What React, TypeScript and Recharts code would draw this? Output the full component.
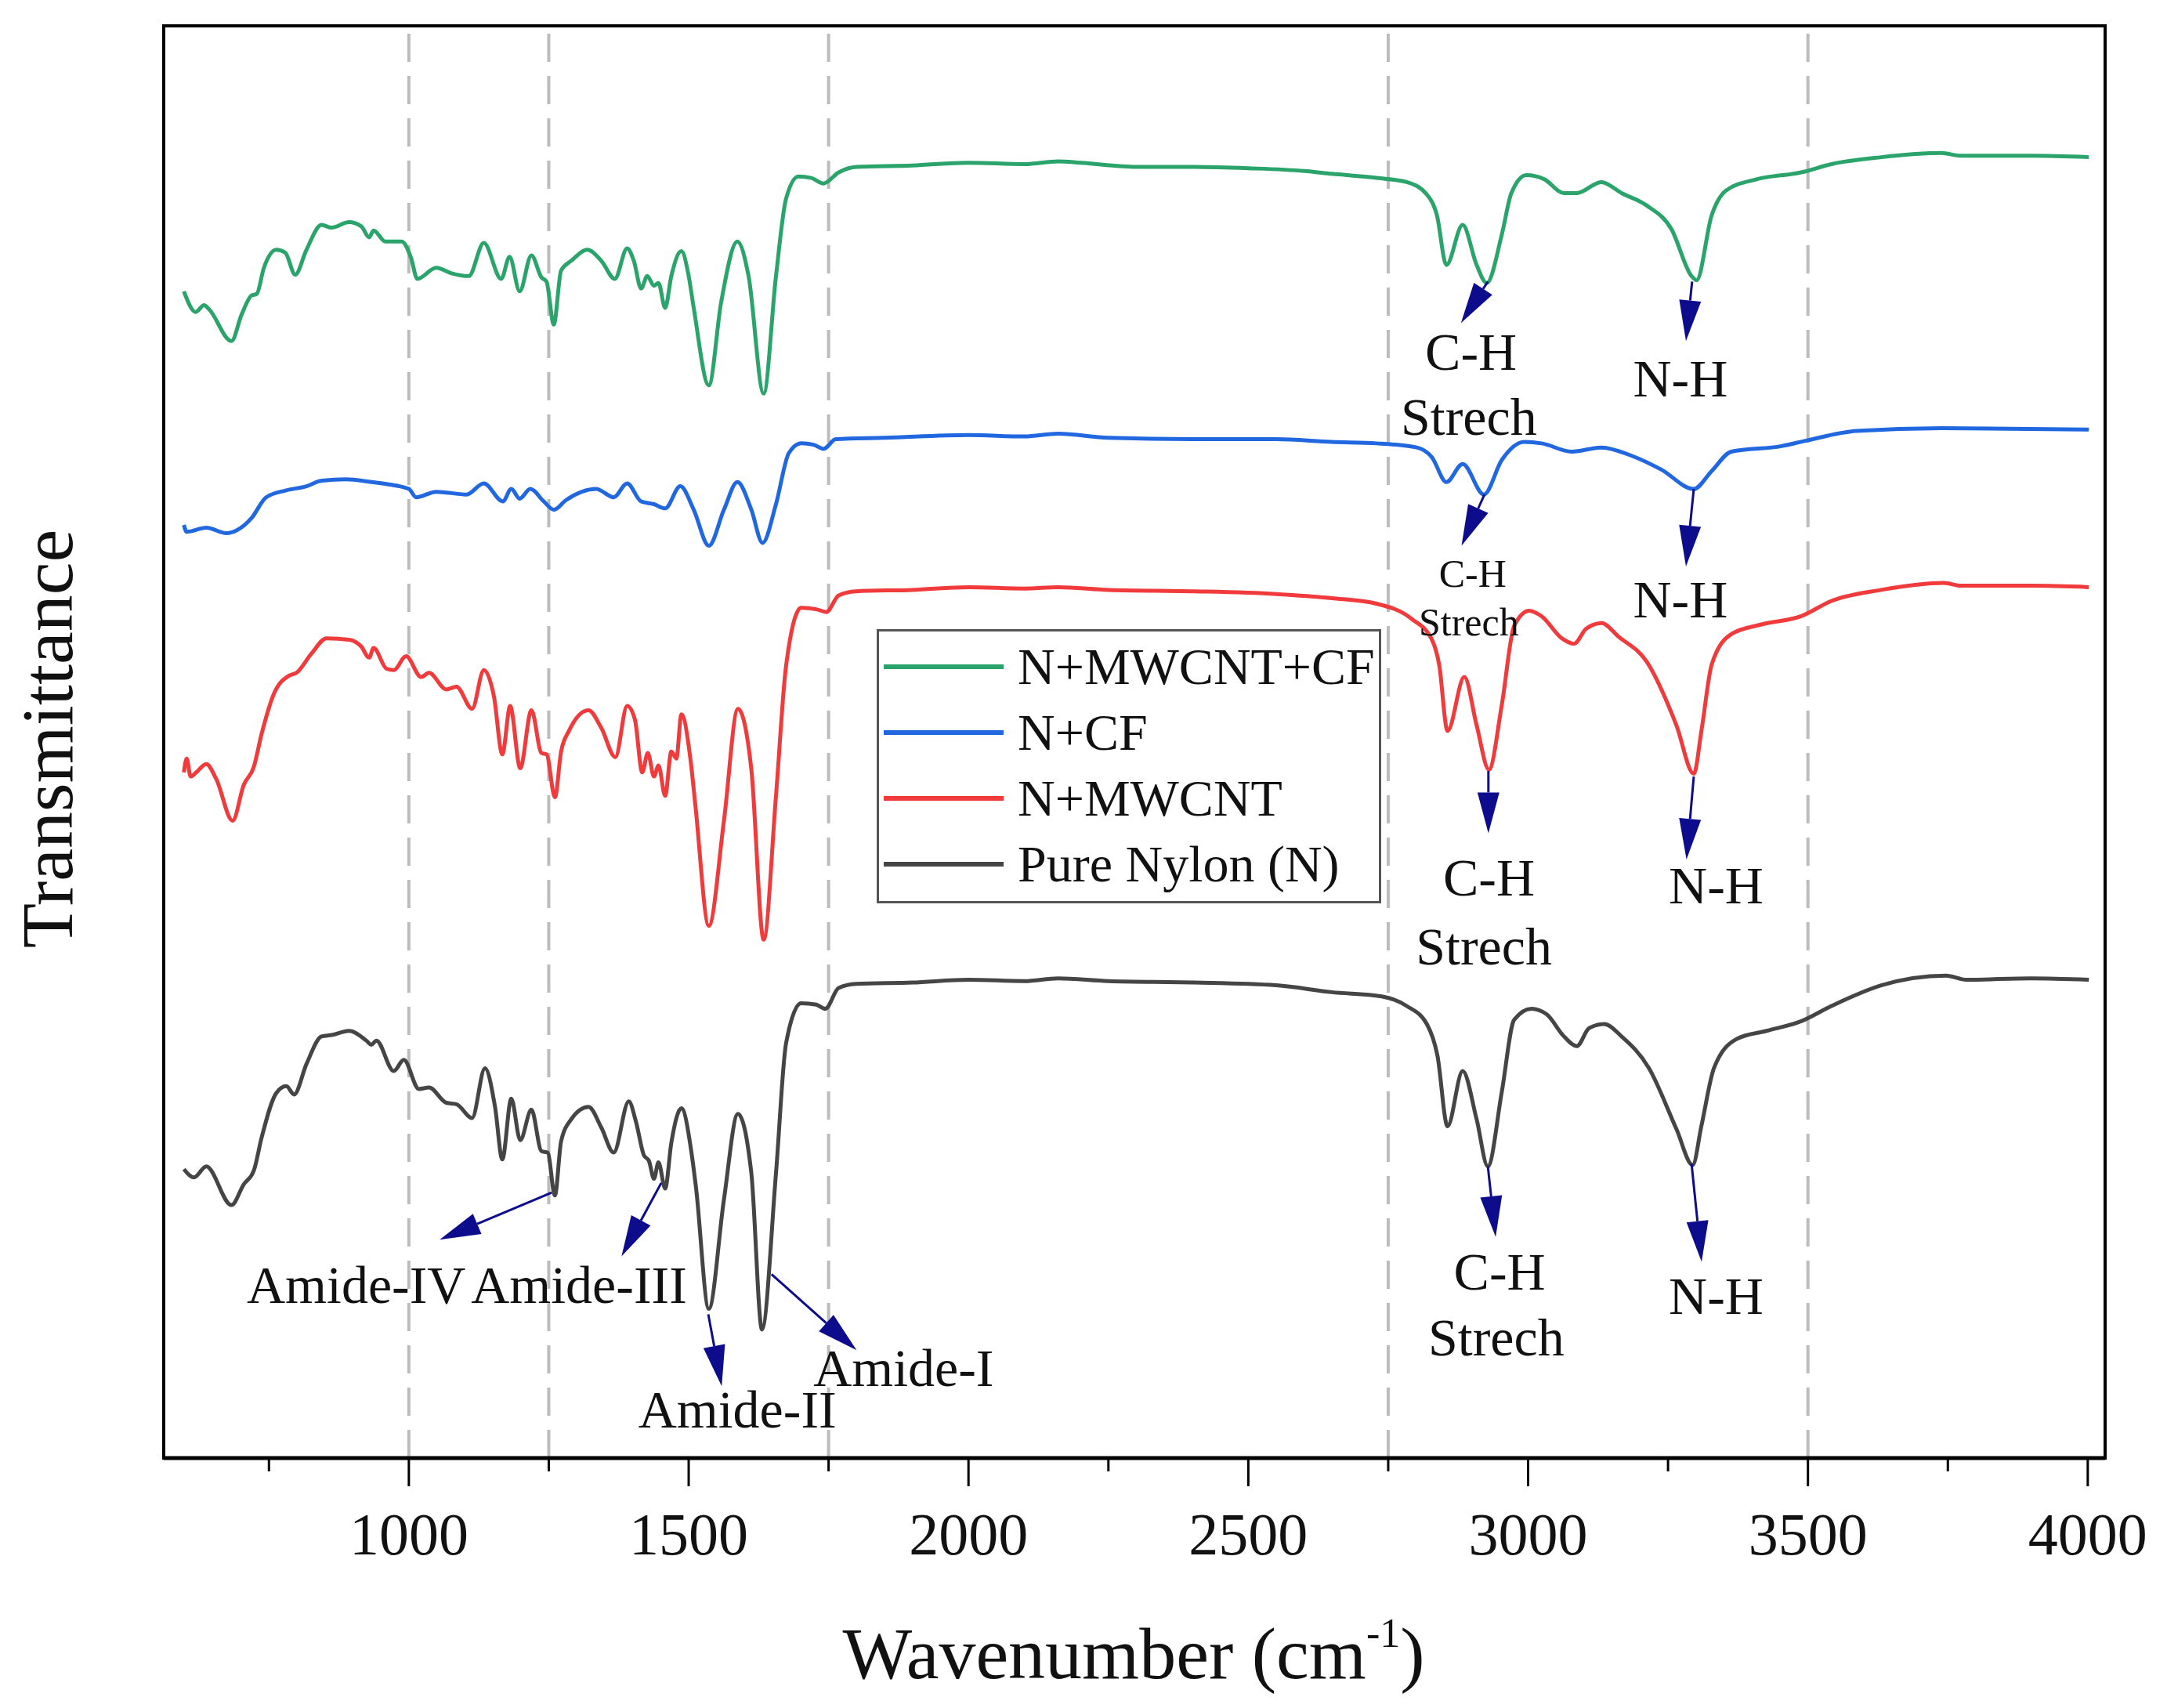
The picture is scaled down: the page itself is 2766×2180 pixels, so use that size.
import {
  Legend,
  Line,
  LineChart,
  ReferenceArea,
  ReferenceDot,
  ReferenceLine,
  XAxis,
  YAxis,
} from 'recharts';

// FTIR spectra, [wavenumber cm-1, transmittance (a.u., offset per trace)]
const mwcntCf: [number, number][] = [
  [598, 844], [619, 829], [634, 834], [643, 831], [683, 808], [701, 827], [719, 841], [728, 842],
  [741, 861], [763, 874], [779, 872], [797, 856], [817, 874], [844, 892], [862, 890], [893, 894],
  [915, 891], [929, 883], [937, 888], [958, 880], [987, 880], [1004, 868], [1015, 853], [1049, 861],
  [1076, 857], [1107, 855], [1134, 879], [1165, 853], [1180, 869], [1198, 844], [1219, 870], [1237, 854],
  [1246, 851], [1259, 820], [1272, 859], [1290, 866], [1319, 874], [1344, 866], [1368, 853], [1390, 875],
  [1402, 866], [1415, 846], [1426, 855], [1438, 848], [1446, 850], [1458, 832], [1469, 855], [1487, 873],
  [1500, 855], [1509, 832], [1536, 776], [1558, 836], [1587, 880], [1607, 855], [1634, 770], [1656, 855],
  [1674, 911], [1696, 927], [1719, 926], [1741, 922], [1768, 930], [1800, 934], [1900, 935], [2000, 937],
  [2100, 936], [2160, 938], [2200, 937], [2300, 934], [2400, 934], [2500, 933], [2600, 931], [2649, 929],
  [2729, 926], [2783, 923], [2819, 914], [2837, 899], [2854, 863], [2883, 892], [2908, 863], [2926, 850],
  [2953, 885], [2970, 915], [2997, 928], [3029, 925], [3064, 915], [3087, 915], [3131, 923], [3167, 915],
  [3212, 906], [3256, 889], [3292, 855], [3301, 852], [3328, 899], [3354, 917], [3408, 925], [3488, 930],
  [3542, 936], [3631, 941], [3738, 944], [3774, 942], [3899, 942], [4002, 941],
];

const nCf: [number, number][] = [
  [598, 675], [603, 670], [638, 673], [674, 669], [692, 671], [719, 680], [745, 695], [781, 700],
  [817, 703], [844, 707], [888, 708], [933, 706], [969, 704], [1000, 701], [1013, 695], [1049, 699],
  [1103, 697], [1134, 705], [1168, 692], [1183, 701], [1198, 694], [1217, 701], [1241, 692], [1259, 686],
  [1281, 693], [1335, 701], [1366, 695], [1390, 705], [1415, 692], [1438, 690], [1458, 687], [1485, 703],
  [1509, 686], [1536, 660], [1563, 686], [1587, 706], [1612, 686], [1632, 662], [1656, 690], [1679, 727],
  [1701, 734], [1723, 733], [1741, 730], [1763, 737], [1850, 738], [2000, 740], [2100, 739], [2160, 741],
  [2250, 738], [2400, 737], [2550, 737], [2649, 735], [2729, 734], [2801, 731], [2828, 724], [2854, 706],
  [2883, 719], [2921, 697], [2953, 722], [2993, 735], [3024, 734], [3078, 728], [3131, 731], [3185, 725],
  [3238, 715], [3296, 701], [3328, 714], [3363, 728], [3453, 732], [3497, 736], [3587, 743], [3738, 745],
  [4002, 744],
];

const nMwcnt: [number, number][] = [
  [598, 496], [603, 506], [610, 493], [620, 496], [638, 502], [656, 491], [685, 461], [705, 487],
  [723, 500], [737, 524], [759, 553], [786, 566], [799, 568], [826, 582], [853, 593], [893, 592],
  [915, 587], [929, 579], [937, 586], [960, 571], [973, 570], [995, 580], [1022, 565], [1036, 568],
  [1067, 556], [1085, 558], [1113, 542], [1134, 570], [1152, 551], [1167, 509], [1181, 544], [1199, 499],
  [1219, 541], [1237, 510], [1246, 509], [1261, 478], [1272, 511], [1286, 526], [1321, 541], [1344, 528],
  [1369, 507], [1390, 544], [1404, 534], [1417, 496], [1427, 510], [1438, 493], [1446, 501], [1458, 479],
  [1469, 511], [1478, 506], [1487, 538], [1503, 506], [1512, 472], [1536, 385], [1563, 461], [1588, 542],
  [1612, 498], [1634, 375], [1656, 479], [1674, 573], [1701, 615], [1728, 614], [1746, 612], [1768, 624],
  [1799, 627], [1900, 628], [2000, 630], [2100, 629], [2160, 630], [2250, 628], [2400, 627], [2550, 625],
  [2649, 622], [2729, 618], [2792, 607], [2828, 592], [2841, 574], [2856, 526], [2886, 565], [2908, 530],
  [2930, 498], [2953, 545], [2975, 602], [3002, 613], [3024, 609], [3060, 593], [3082, 589], [3104, 600],
  [3131, 604], [3162, 594], [3212, 576], [3265, 530], [3296, 495], [3310, 527], [3328, 574], [3363, 596],
  [3417, 603], [3488, 609], [3542, 620], [3631, 628], [3743, 633], [3774, 631], [3899, 631], [4002, 630],
];

const pureNylon: [number, number][] = [
  [598, 209], [616, 203], [638, 211], [683, 183], [705, 198], [723, 208], [737, 232], [763, 264],
  [781, 269], [795, 263], [817, 285], [844, 305], [862, 306], [893, 309], [924, 302], [933, 299],
  [942, 302], [973, 280], [991, 288], [1018, 267], [1036, 268], [1067, 257], [1085, 256], [1113, 246],
  [1136, 282], [1154, 254], [1167, 216], [1183, 260], [1199, 230], [1219, 252], [1237, 222], [1248, 221],
  [1261, 190], [1272, 229], [1290, 245], [1321, 254], [1344, 239], [1366, 221], [1393, 258], [1406, 243],
  [1420, 219], [1429, 215], [1438, 202], [1446, 214], [1458, 195], [1469, 228], [1487, 253], [1505, 221],
  [1513, 196], [1536, 108], [1563, 187], [1588, 249], [1612, 206], [1631, 93], [1656, 206], [1674, 300],
  [1701, 329], [1728, 328], [1744, 325], [1768, 340], [1799, 343], [1900, 344], [2000, 346], [2100, 345],
  [2160, 347], [2250, 345], [2400, 344], [2550, 342], [2649, 337], [2738, 334], [2783, 327], [2819, 314],
  [2838, 291], [2856, 240], [2883, 280], [2908, 245], [2928, 211], [2953, 265], [2975, 317], [3006, 325],
  [3033, 321], [3064, 305], [3087, 298], [3109, 311], [3136, 314], [3167, 305], [3216, 282], [3265, 238],
  [3294, 212], [3310, 241], [3332, 282], [3372, 303], [3426, 309], [3488, 316], [3542, 327], [3631, 342],
  [3747, 349], [3783, 346], [3899, 347], [4002, 346],
];

const SERIES = [
  { name: 'N+MWCNT+CF', color: '#2aa46b', points: mwcntCf },
  { name: 'N+CF', color: '#2167e0', points: nCf },
  { name: 'N+MWCNT', color: '#f03a3c', points: nMwcnt },
  { name: 'Pure Nylon (N)', color: '#454545', points: pureNylon },
];

const X_DOMAIN: [number, number] = [562, 4031];
const Y_DOMAIN: [number, number] = [0, 1036];
const X_TICKS = [750, 1000, 1250, 1500, 1750, 2000, 2250, 2500, 2750, 3000, 3250, 3500, 3750, 4000];
const GUIDE_LINES = [1000, 1250, 1750, 2750, 3500];

// peak annotations: arrow tail on the band -> arrow tip
const ARROWS: { from: [number, number]; to: [number, number] }[] = [
  { from: [2928, 851], to: [2880, 821] },
  { from: [3293, 851], to: [3282, 808] },
  { from: [2922, 697], to: [2881, 660] },
  { from: [3296, 701], to: [3282, 645] },
  { from: [2929, 497], to: [2929, 452] },
  { from: [3296, 493], to: [3283, 433] },
  { from: [2928, 211], to: [2942, 160] },
  { from: [3292, 213], to: [3310, 142] },
  { from: [1255, 192], to: [1055, 158] },
  { from: [1451, 199], to: [1380, 146] },
  { from: [1535, 104], to: [1559, 52] },
  { from: [1648, 133], to: [1800, 78] },
];

const NOTES: { text: string; at: [number, number]; size: number }[] = [
  { text: 'C-H', at: [2898, 787], size: 68 },
  { text: 'Strech', at: [2894, 740], size: 68 },
  { text: 'N-H', at: [3272, 768], size: 68 },
  { text: 'C-H', at: [2901, 630], size: 50 },
  { text: 'Strech', at: [2894, 595], size: 50 },
  { text: 'N-H', at: [3272, 608], size: 68 },
  { text: 'C-H', at: [2930, 407], size: 68 },
  { text: 'Strech', at: [2921, 357], size: 68 },
  { text: 'N-H', at: [3336, 401], size: 68 },
  { text: 'C-H', at: [2949, 122], size: 68 },
  { text: 'Strech', at: [2943, 74], size: 68 },
  { text: 'N-H', at: [3336, 104], size: 68 },
  { text: 'Amide-IV', at: [906, 112], size: 68 },
  { text: 'Amide-III', at: [1304, 112], size: 68 },
  { text: 'Amide-II', at: [1587, 22], size: 68 },
  { text: 'Amide-I', at: [1884, 52], size: 68 },
];

const FONT = '"Liberation Serif", "Times New Roman", serif';
const NAVY = '#0c0c8c';

function Arrow({ x1, y1, x2, y2 }: any) {
  const dx = x2 - x1;
  const dy = y2 - y1;
  const len = Math.hypot(dx, dy) || 1;
  const ux = dx / len;
  const uy = dy / len;
  const head = 52;
  const half = 14;
  const bx = x2 - ux * head;
  const by = y2 - uy * head;
  const pts = `${x2},${y2} ${bx - uy * half},${by + ux * half} ${bx + uy * half},${by - ux * half}`;
  return (
    <g>
      <line x1={x1} y1={y1} x2={bx} y2={by} stroke={NAVY} strokeWidth={3} />
      <polygon points={pts} fill={NAVY} />
    </g>
  );
}

function AxisTick({ x, y, payload }: any) {
  const major = payload.value % 500 === 0;
  return (
    <g>
      <line x1={x} x2={x} y1={y} y2={y + (major ? 36 : 17)} stroke="#000" strokeWidth={3} />
      {major && (
        <text x={x} y={y + 123} textAnchor="middle" fontSize={76} fontFamily={FONT} fill="#111">
          {payload.value}
        </text>
      )}
    </g>
  );
}

// axis titles sit at fixed spots, so the props recharts hands over are ignored
function XTitle() {
  return (
    <text x={1447} y={2142} textAnchor="middle" fontSize={94} fontFamily={FONT} fill="#111">
      <tspan>Wavenumber (cm</tspan>
      <tspan dy={-40} fontSize={52}>-1</tspan>
      <tspan dy={40}>)</tspan>
    </text>
  );
}

function YTitle() {
  return (
    <text x={92} y={943} transform="rotate(-90, 92, 943)" textAnchor="middle" fontSize={94} fontFamily={FONT} fill="#111">
      Transmittance
    </text>
  );
}

function LegendBox() {
  return (
    <div
      style={{
        width: 644,
        height: 350,
        border: '3px solid #555',
        boxSizing: 'border-box',
        background: '#fff',
        paddingTop: 3,
      }}
    >
      {SERIES.map((s) => (
        <div key={s.name} style={{ height: 84, display: 'flex', alignItems: 'center' }}>
          <span style={{ display: 'inline-block', width: 153, height: 6, background: s.color, marginLeft: 6, marginRight: 18 }} />
          <span style={{ fontSize: 66, lineHeight: 1, fontFamily: FONT, color: '#111', whiteSpace: 'nowrap' }}>{s.name}</span>
        </div>
      ))}
    </div>
  );
}

export default function App() {
  return (
    <div style={{ position: 'absolute', left: 0, top: 0, background: '#fff' }}>
      <LineChart width={2766} height={2180} margin={{ top: 33, right: 79, bottom: 219, left: 149 }}>
        <XAxis
          type="number"
          dataKey="wn"
          domain={X_DOMAIN}
          allowDataOverflow
          ticks={X_TICKS}
          interval={0}
          tickSize={0}
          tickMargin={0}
          tickLine={false}
          tick={<AxisTick />}
          height={100}
          axisLine={{ stroke: '#000', strokeWidth: 5 }}
          label={{ content: () => <XTitle /> }}
        />
        <YAxis
          type="number"
          domain={Y_DOMAIN}
          allowDataOverflow
          width={60}
          tick={false}
          tickLine={false}
          axisLine={false}
          label={{ content: () => <YTitle /> }}
        />
        {GUIDE_LINES.map((x) => (
          <ReferenceLine key={x} x={x} stroke="#bcbcbc" strokeWidth={4} strokeDasharray="36 18" />
        ))}
        <ReferenceArea
          x1={X_DOMAIN[0]}
          x2={X_DOMAIN[1]}
          y1={Y_DOMAIN[0]}
          y2={Y_DOMAIN[1]}
          fill="none"
          fillOpacity={0}
          stroke="#000"
          strokeWidth={4}
          ifOverflow="visible"
        />
        {SERIES.map((s) => (
          <Line
            key={s.name}
            name={s.name}
            data={s.points.map(([wn, t]) => ({ wn, t }))}
            dataKey="t"
            type="monotone"
            stroke={s.color}
            strokeWidth={5}
            strokeLinejoin="round"
            dot={false}
            activeDot={false}
            isAnimationActive={false}
          />
        ))}
        {ARROWS.map((a, i) => (
          <ReferenceLine
            key={`arrow-${i}`}
            segment={[
              { x: a.from[0], y: a.from[1] },
              { x: a.to[0], y: a.to[1] },
            ]}
            ifOverflow="visible"
            shape={(p: any) => <Arrow {...p} />}
          />
        ))}
        {NOTES.map((n, i) => (
          <ReferenceDot
            key={`note-${i}`}
            x={n.at[0]}
            y={n.at[1]}
            r={1}
            ifOverflow="visible"
            shape={(p: any) => (
              <text x={p.cx} y={p.cy} textAnchor="middle" fontSize={n.size} fontFamily={FONT} fill="#111">
                {n.text}
              </text>
            )}
          />
        ))}
        <Legend
          layout="vertical"
          align="center"
          verticalAlign="middle"
          content={() => <LegendBox />}
          wrapperStyle={{ left: 1119, top: 803, width: 644, height: 350 }}
        />
      </LineChart>
    </div>
  );
}
